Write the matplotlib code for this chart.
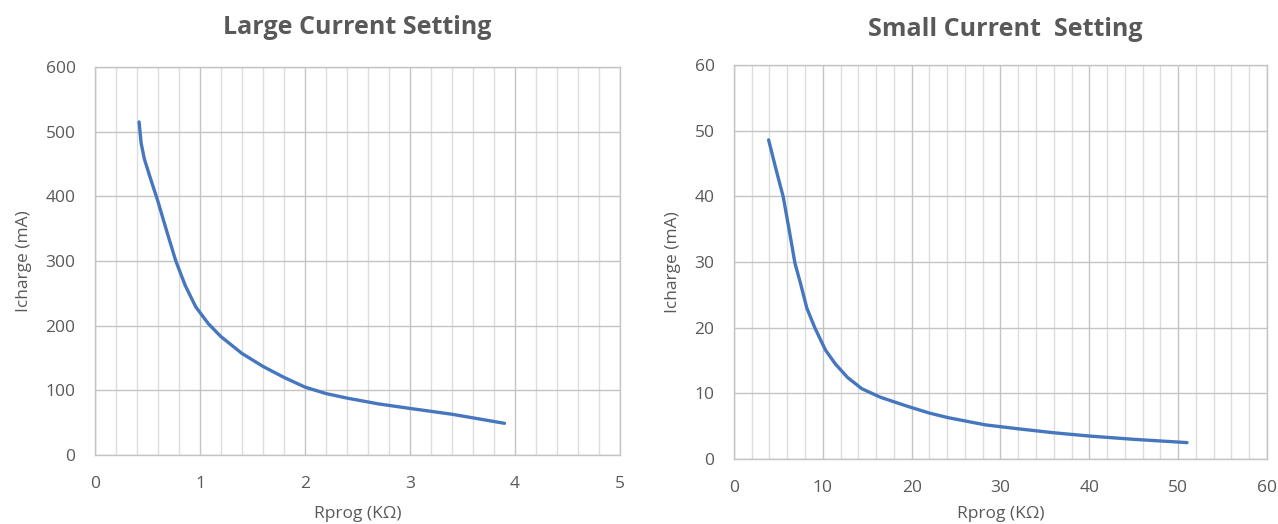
import matplotlib
matplotlib.use("Agg")
import matplotlib.pyplot as plt
from matplotlib.ticker import MultipleLocator

plt.rcParams.update({
    "font.family": ["Open Sans", "DejaVu Sans"],
    "text.color": "#595959",
    "axes.labelcolor": "#595959",
    "xtick.color": "#595959",
    "ytick.color": "#595959",
})

# ---------- data ----------
large_r = [0.42, 0.44, 0.47, 0.52, 0.60, 0.68, 0.77, 0.86, 0.96, 1.08, 1.20,
           1.40, 1.60, 1.80, 2.00, 2.20, 2.40, 2.70, 3.00, 3.40, 3.90]
large_i = [515, 482, 458, 432, 392, 348, 300, 262, 229, 203, 183,
           157, 137, 120, 105, 95, 88, 79, 72, 63, 49]

small_r = [3.9, 4.7, 5.55, 6.2, 6.87, 7.5, 8.2, 9.1, 10.3, 11.4, 12.8, 14.4,
           16.5, 19.6, 22.0, 24.1, 28.3, 32.0, 36.0, 40.0, 45.0, 51.0]
small_i = [48.6, 44.3, 39.9, 35.0, 29.8, 26.7, 23.0, 20.0, 16.6, 14.5, 12.4, 10.7,
           9.4, 8.0, 7.0, 6.3, 5.2, 4.6, 4.0, 3.5, 3.0, 2.5]

LINE = "#4677BE"
MAJOR = "#c4c4c4"
MINOR = "#dcdcdc"

fig = plt.figure(figsize=(12.78, 5.24), dpi=100)
ax1 = fig.add_axes([0.0743, 0.1317, 0.4108, 0.7405])
ax2 = fig.add_axes([0.5743, 0.1240, 0.4171, 0.7519])


def style(ax, xmax, xmaj, xmin, ymax, ymaj, title, title_pos, xlpad):
    ax.set_xlim(0, xmax)
    ax.set_ylim(0, ymax)
    ax.xaxis.set_major_locator(MultipleLocator(xmaj))
    ax.xaxis.set_minor_locator(MultipleLocator(xmin))
    ax.yaxis.set_major_locator(MultipleLocator(ymaj))
    ax.grid(True, which="major", color=MAJOR, lw=1.0)
    ax.grid(True, which="minor", axis="x", color=MINOR, lw=1.0)
    ax.set_axisbelow(True)
    for s in ax.spines.values():
        s.set_color(MAJOR)
        s.set_linewidth(1.0)
    ax.tick_params(which="both", length=0, labelsize=12.5)
    ax.tick_params(axis="x", pad=15)
    ax.tick_params(axis="y", pad=14)
    ax.set_xlabel("Rprog (KΩ)", fontsize=12.5, labelpad=xlpad)
    ax.set_ylabel("Icharge (mA)", fontsize=12.5, labelpad=10)
    fig.text(title_pos[0], title_pos[1], title, ha="center", va="center",
             fontsize=18, fontweight="bold", color="#595959")


ax1.plot(large_r, large_i, color=LINE, lw=2.4, solid_capstyle="round")
style(ax1, 5, 1, 0.2, 600, 100, "Large Current Setting",
      (357 / 1278, 1 - 27 / 524), 10)

ax2.plot(small_r, small_i, color=LINE, lw=2.4, solid_capstyle="round")
style(ax2, 60, 10, 2, 60, 10, "Small Current  Setting",
      (1005 / 1278, 1 - 30 / 524), 7)

fig.savefig("out.png", dpi=100)
